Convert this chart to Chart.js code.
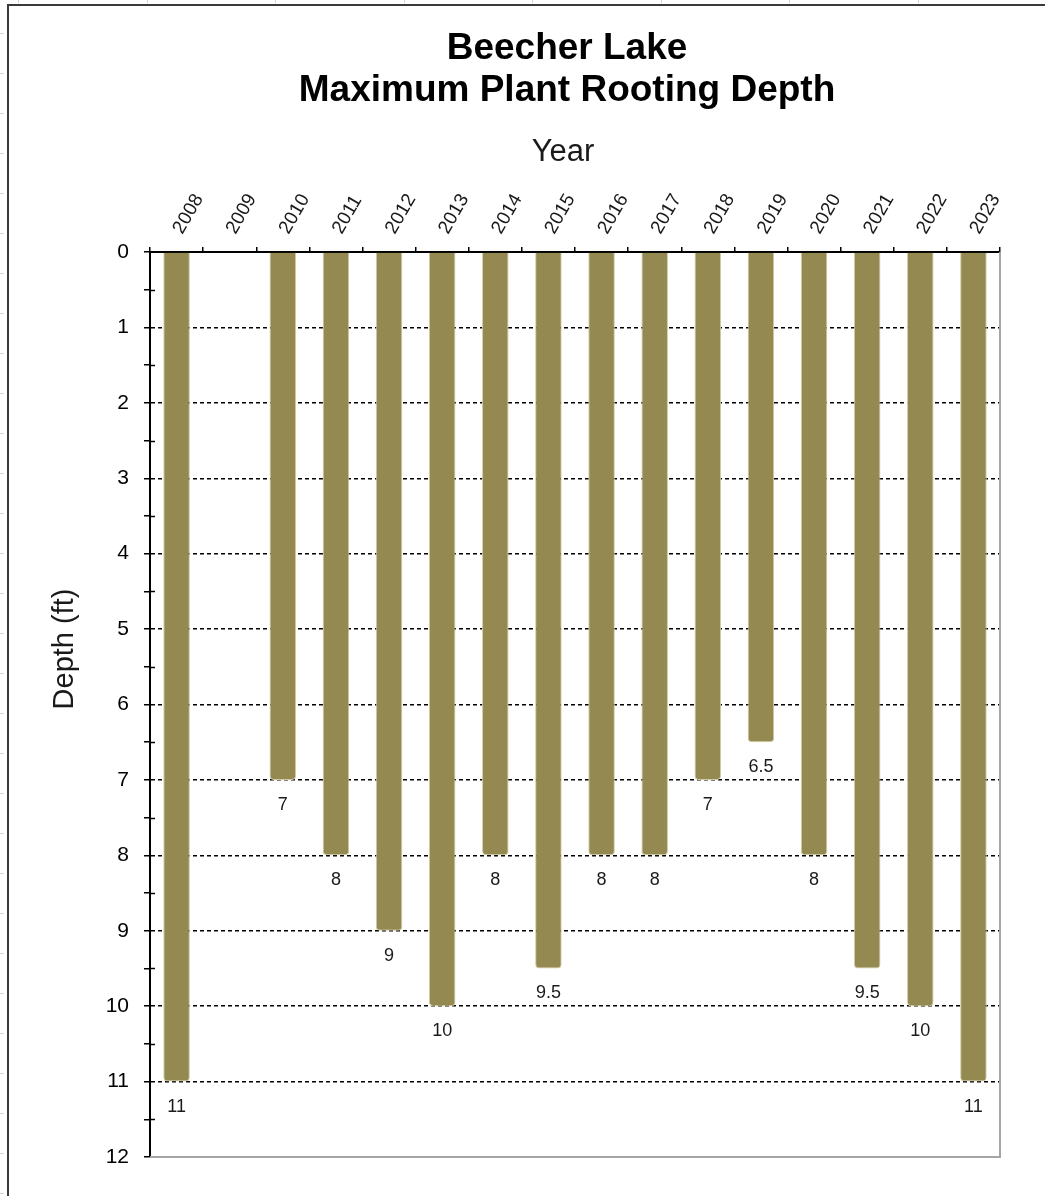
<!DOCTYPE html>
<html>
<head>
<meta charset="utf-8">
<title>Beecher Lake – Maximum Plant Rooting Depth</title>
<script src="https://cdn.jsdelivr.net/npm/chart.js@4/dist/chart.umd.min.js"></script>
<style>
  html, body { margin: 0; padding: 0; background: #fff; }
  #wrap { width: 1045px; height: 1196px; position: relative; }
  canvas { display: block; }
</style>
</head>
<body>
<div id="wrap"><canvas id="chart" width="1045" height="1196"></canvas></div>
<script>
// Survey years and the deepest depth (ft) at which rooted plants were found
const years = ['2008', '2009', '2010', '2011', '2012', '2013', '2014', '2015',
               '2016', '2017', '2018', '2019', '2020', '2021', '2022', '2023'];
const maxRootingDepth = [11, null, 7, 8, 9, 10, 8, 9.5, 8, 8, 7, 6.5, 8, 9.5, 10, 11];

const titleLines = ['Beecher Lake', 'Maximum Plant Rooting Depth'];
const xAxisTitle = 'Year';
const yAxisTitle = 'Depth (ft)';
const depthMin = 0;
const depthMax = 12;

const FONT = "'Liberation Sans', Arial, Helvetica, sans-serif";
const BAR_COLOR = '#938951';
const BAR_EDGE = '#d2cba3';

// Frame, sheet marks, titles, plot edges, minor ticks and value labels
const decorations = {
  id: 'decorations',
  beforeDraw(chart) {
    const { ctx, width, height } = chart;
    ctx.save();
    ctx.fillStyle = '#fff';
    ctx.fillRect(0, 0, width, height);
    // faint sheet cell marks along the outer edges
    ctx.strokeStyle = '#d4d4d4';
    ctx.lineWidth = 1;
    for (let y = 33; y < height; y += 40) {
      ctx.beginPath(); ctx.moveTo(0, y + 0.5); ctx.lineTo(4, y + 0.5); ctx.stroke();
    }
    for (let x = 18; x < width; x += 128.5) {
      ctx.beginPath(); ctx.moveTo(Math.round(x) + 0.5, 0); ctx.lineTo(Math.round(x) + 0.5, 3); ctx.stroke();
    }
    // chart frame (top and left edges)
    ctx.strokeStyle = '#3a3a3a';
    ctx.lineWidth = 2;
    ctx.beginPath();
    ctx.moveTo(8, height);
    ctx.lineTo(8, 5);
    ctx.lineTo(width, 5);
    ctx.stroke();
    ctx.restore();
  },
  afterDraw(chart) {
    const { ctx, chartArea: a } = chart;
    const yScale = chart.scales.y;
    ctx.save();
    // titles
    ctx.fillStyle = '#000';
    ctx.textAlign = 'center';
    ctx.textBaseline = 'alphabetic';
    ctx.font = 'bold 37px ' + FONT;
    ctx.fillText(titleLines[0], 567, 59);
    ctx.fillText(titleLines[1], 567, 101);
    ctx.fillStyle = '#1a1a1a';
    ctx.font = '31px ' + FONT;
    ctx.fillText(xAxisTitle, 563, 161);
    // vertical axis title
    ctx.save();
    ctx.translate(73, 649);
    ctx.rotate(-Math.PI / 2);
    ctx.font = '29px ' + FONT;
    ctx.fillText(yAxisTitle, 0, 0);
    ctx.restore();
    // right and bottom plot edges
    ctx.strokeStyle = '#a6a6a6';
    ctx.lineWidth = 2;
    ctx.beginPath();
    ctx.moveTo(a.right, a.top);
    ctx.lineTo(a.right, a.bottom);
    ctx.lineTo(a.left, a.bottom);
    ctx.stroke();
    // inner half of the minor ticks
    ctx.strokeStyle = '#000';
    ctx.lineWidth = 1.5;
    for (let v = depthMin + 0.5; v < depthMax; v += 1) {
      const y = Math.round(yScale.getPixelForValue(v)) + 0.5;
      ctx.beginPath(); ctx.moveTo(a.left, y); ctx.lineTo(a.left + 5, y); ctx.stroke();
    }
    ctx.restore();
  },
  afterDatasetsDraw(chart) {
    const { ctx } = chart;
    const meta = chart.getDatasetMeta(0);
    const values = chart.data.datasets[0].data;
    ctx.save();
    ctx.fillStyle = '#1a1a1a';
    ctx.font = '18px ' + FONT;
    ctx.textAlign = 'center';
    ctx.textBaseline = 'middle';
    meta.data.forEach((bar, i) => {
      const v = values[i];
      if (v === null || v === undefined) return;
      ctx.fillText(String(v), bar.x, bar.y + 25);
    });
    ctx.restore();
  }
};

new Chart(document.getElementById('chart'), {
  type: 'bar',
  data: {
    labels: years,
    datasets: [{
      label: 'Maximum rooting depth (ft)',
      data: maxRootingDepth,
      backgroundColor: BAR_COLOR,
      borderColor: BAR_EDGE,
      borderWidth: 1,
      borderRadius: 4,
      borderSkipped: 'start',
      categoryPercentage: 1.0,
      barPercentage: 0.5
    }]
  },
  options: {
    responsive: false,
    animation: false,
    events: [],
    layout: { padding: { top: 0, left: 0, right: 45, bottom: 39 } },
    plugins: {
      legend: { display: false },
      title: { display: false },
      tooltip: { enabled: false }
    },
    scales: {
      x: {
        type: 'category',
        position: 'top',
        offset: true,
        grid: {
          offset: true,
          drawOnChartArea: false,
          drawTicks: true,
          tickLength: 5,
          color: '#000',
          lineWidth: 1.5
        },
        border: { display: true, color: '#000', width: 2 },
        ticks: {
          autoSkip: false,
          minRotation: 60,
          maxRotation: 60,
          padding: 9,
          labelOffset: 21,
          color: '#1a1a1a',
          font: { family: FONT, size: 19 }
        },
        afterFit(scale) { scale.height = 252; }
      },
      y: {
        type: 'linear',
        reverse: true,
        min: depthMin,
        max: depthMax,
        grid: {
          drawTicks: true,
          tickLength: 6,
          lineWidth: 1.5,
          color: (c) => {
            const v = c.tick ? c.tick.value : null;
            if (v === null || v === depthMin || v === depthMax) return 'rgba(0,0,0,0)';
            return Number.isInteger(v) ? '#000' : 'rgba(0,0,0,0)';
          },
          tickColor: '#000',
          tickWidth: 1.5,
          tickBorderDash: []
        },
        border: { display: true, color: '#000', width: 2, dash: [4, 3] },
        ticks: {
          stepSize: 0.5,
          autoSkip: false,
          padding: 15,
          color: '#000',
          font: { family: FONT, size: 21 },
          callback: (v) => Number.isInteger(v) ? String(v) : ''
        },
        title: { display: false },
        afterFit(scale) { scale.width = 150; }
      }
    }
  },
  plugins: [decorations]
});
</script>
</body>
</html>
